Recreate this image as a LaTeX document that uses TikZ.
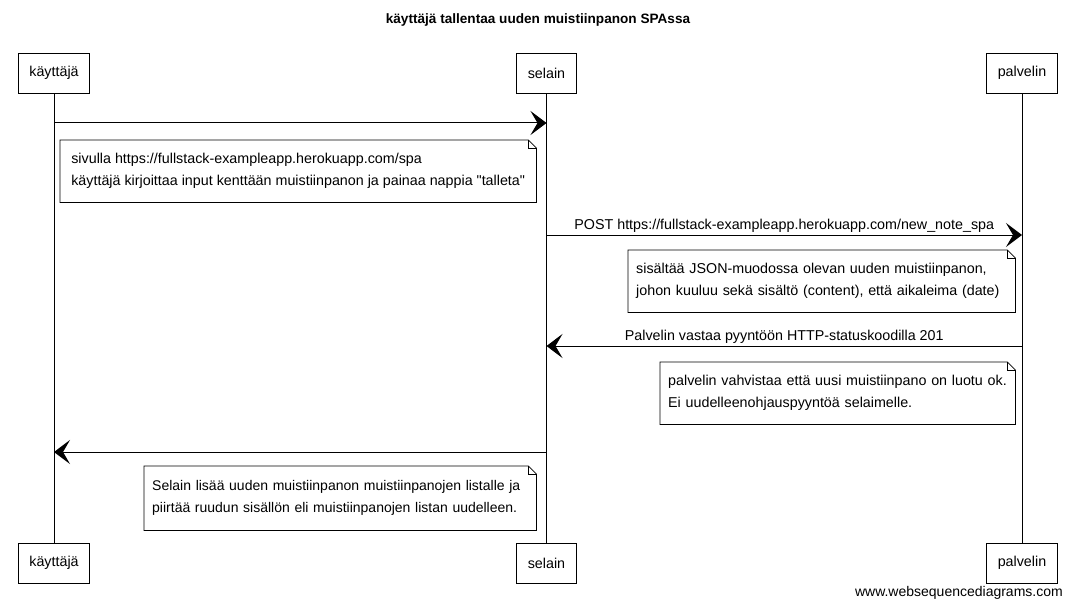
\documentclass[tikz,border=0pt]{standalone}
\usepackage{fontspec}
\setmainfont{Liberation Sans}
\newfontfamily\myplainfont{Liberation Sans}
\usetikzlibrary{arrows.meta,decorations.pathmorphing}
\newcommand\mynoteoutline[1]{%
  \draw[noteline] (#1.north west) -- ([xshift=-8pt]#1.north east) -- ([yshift=-8pt]#1.north east) -- (#1.south east) -- (#1.south west) -- cycle;
  \draw[noteline] ([xshift=-8pt]#1.north east) -- ([xshift=-8pt,yshift=-8pt]#1.north east) -- ([yshift=-8pt]#1.north east);
}
\tikzset{
  every node/.style={font=\fontsize{14.3}{22}\selectfont},
  part/.style={draw=black, line width=0.8pt, minimum height=40pt, inner xsep=11pt, fill=white},
  notebody/.style={anchor=north west, inner xsep=8pt, inner ysep=0pt, align=left},
  noteline/.style={draw=black, line width=0.8pt},
  life/.style={draw=black, line width=0.6pt},
  msg/.style={draw=black, line width=1pt, -{Stealth[length=16pt, width=24pt, inset=7pt]}},
  lbl/.style={above, inner sep=2pt}
}
\begin{document}
\begin{tikzpicture}[x=1pt,y=-1pt]
\useasboundingbox[fill=white] (0,0) rectangle (1071,607);
\node[font=\fontsize{13.6}{16}\selectfont\bfseries] (title) at (538,20) {käyttäjä tallentaa uuden muistiinpanon SPAssa};
% participants
\node[part] (kt) at (54,73) {käyttäjä};
\node[part] (st) at (546.5,73) {selain};
\node[part] (pt) at (1022,73) {palvelin};
\node[part] (kb) at (54,563) {käyttäjä};
\node[part] (sb) at (546.5,563) {selain};
\node[part] (pb) at (1022,563) {palvelin};
\draw[life] (kt.south) -- (kb.north);
\draw[life] (st.south) -- (sb.north);
\draw[life] (pt.south) -- (pb.north);
% message endpoints
\coordinate (a1s) at (54,123);
\coordinate (a1e) at (546.5,123);
\coordinate (a2s) at (546.5,235);
\coordinate (a2e) at (1022,235);
\coordinate (a3s) at (1022,346);
\coordinate (a3e) at (546.5,346);
\coordinate (a4s) at (546.5,452);
\coordinate (a4e) at (54,452);
\draw[msg] (a1s) -- (a1e);
\draw[msg] (a2s) -- node[lbl] (l2) {POST https://fullstack-exampleapp.herokuapp.com/new\_note\_spa} (a2e);
\draw[msg] (a3s) -- node[lbl] (l3) {Palvelin vastaa pyyntöön HTTP-statuskoodilla 201} (a3e);
\draw[msg] (a4s) -- (a4e);
% notes
\node[notebody, minimum height=62pt, minimum width=476pt] (n1) at (60,140) {sivulla https://fullstack-exampleapp.herokuapp.com/spa\\käyttäjä kirjoittaa input kenttään muistiinpanon ja painaa nappia {\myplainfont "talleta"}};
\mynoteoutline{n1}
\node[notebody, text width=371pt, minimum height=62pt] (n2) at (628,250) {sisältää JSON-muodossa olevan uuden muistiinpanon,\\johon kuuluu sekä sisältö (content), että aikaleima (date)};
\mynoteoutline{n2}
\node[notebody, text width=339pt, minimum height=62pt] (n3) at (660,362) {palvelin vahvistaa että uusi muistiinpano on luotu ok.\\Ei uudelleenohjauspyyntöä selaimelle.};
\mynoteoutline{n3}
\node[notebody, text width=376pt, minimum height=64pt, font=\fontsize{14}{22}\selectfont] (n4) at (144,466) {Selain lisää uuden muistiinpanon muistiinpanojen listalle ja\\piirtää ruudun sisällön eli muistiinpanojen listan uudelleen.};
\mynoteoutline{n4}
\node[anchor=east, font=\fontsize{14}{16}\selectfont, inner sep=0pt] (wm) at (1063,593) {www.websequencediagrams.com};
\end{tikzpicture}
\end{document}
